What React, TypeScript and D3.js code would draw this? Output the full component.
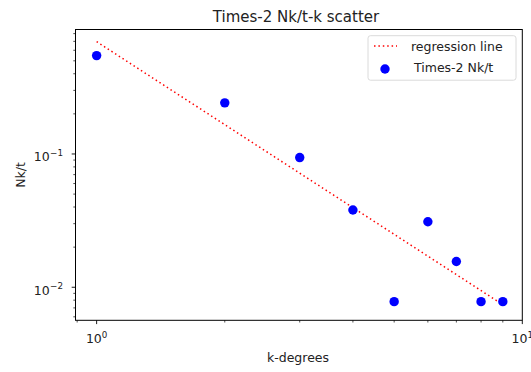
import React from "react";
import * as d3 from "d3";

const degrees = [1, 2, 3, 4, 5, 6, 7, 8, 9];
const nkt = [0.547, 0.242, 0.094, 0.038, 0.0078, 0.031, 0.0156, 0.0078, 0.0078];
const regK = [1, 9];
const regY = [0.696, 0.0074];
const xMajor = [1, 10];
const yMajor = [0.01, 0.1];
const xMinor = [0.9, 2, 3, 4, 5, 6, 7, 8, 9];
const yMinor = [0.006, 0.007, 0.008, 0.009, 0.02, 0.03, 0.04, 0.05, 0.06, 0.07, 0.08, 0.09, 0.2, 0.3, 0.4, 0.5, 0.6, 0.7, 0.8];

const W = 531, H = 372;
const left = 75.5, right = 522.3, top = 29.5, bottom = 320.3;
const font = "DejaVu Sans, sans-serif";
const fs = 12.5, sup = 8.75;

export default function App() {
  const x = d3.scaleLog().domain([0.892, 10]).range([left, right]);
  const y = d3.scaleLog().domain([0.00565, 0.859]).range([bottom, top]);
  const line = d3.line<number>().x((d, i) => x(regK[i])).y(d => y(d));
  const expo = (v: number) => String(Math.round(Math.log10(v))).replace("-", "\u2212");

  return (
    <svg width={W} height={H} style={{ position: "fixed", left: 0, top: 0, background: "#fff" }} fontFamily={font}>
      <rect x={0} y={0} width={W} height={H} fill="#fff" />
      <text x={296} y={21.5} textAnchor="middle" fontSize={15} fill="#222">Times-2 Nk/t-k scatter</text>

      {/* regression */}
      <path d={line(regY) || ""} fill="none" stroke="#ff0000" strokeWidth={1.5} strokeDasharray="1.5 2.9" />

      {degrees.map((k, i) => (
        <circle key={k} cx={x(k)} cy={y(nkt[i])} r={4.7} fill="#0000ff" />
      ))}

      {/* axes frame */}
      <rect x={left} y={top} width={right - left} height={bottom - top} fill="none" stroke="#000" strokeWidth={1} />

      {xMinor.map(v => (
        <line key={"xm" + v} x1={x(v)} x2={x(v)} y1={bottom} y2={bottom + 2.2} stroke="#000" strokeWidth={0.7} />
      ))}
      {xMajor.map(v => (
        <g key={"xM" + v}>
          <line x1={x(v)} x2={x(v)} y1={bottom} y2={bottom + 3.8} stroke="#000" strokeWidth={0.9} />
          <text x={x(v) - 10.7} y={343} fontSize={fs} fill="#222">
            10<tspan dy={-5.5} fontSize={sup}>{expo(v)}</tspan>
          </text>
        </g>
      ))}
      {yMinor.map(v => (
        <line key={"ym" + v} x1={left - 2.2} x2={left} y1={y(v)} y2={y(v)} stroke="#000" strokeWidth={0.7} />
      ))}
      {yMajor.map(v => (
        <g key={"yM" + v}>
          <line x1={left - 3.8} x2={left} y1={y(v)} y2={y(v)} stroke="#000" strokeWidth={0.9} />
          <text x={49.6} y={y(v) + 7.5} textAnchor="end" fontSize={fs} fill="#222">10</text>
          <text x={63} y={y(v) + 2.2} textAnchor="end" fontSize={sup} fill="#222">{expo(v)}</text>
        </g>
      ))}

      <text x={298} y={362} textAnchor="middle" fontSize={fs} fill="#222">k-degrees</text>
      <text transform={`translate(24.5,${(top + bottom) / 2}) rotate(-90)`} textAnchor="middle" fontSize={fs} fill="#222">Nk/t</text>

      {/* legend */}
      <rect x={368} y={35.7} width={148} height={44.5} rx={2.5} fill="#fff" fillOpacity={0.8} stroke="#d6d6d6" strokeWidth={0.9} />
      <line x1={374} x2={397} y1={46} y2={46} stroke="#ff0000" strokeWidth={1.5} strokeDasharray="1.5 2.9" />
      <text x={411} y={50.5} fontSize={fs} fill="#222">regression line</text>
      <circle cx={385} cy={69} r={4.7} fill="#0000ff" />
      <text x={414} y={71.7} fontSize={fs} fill="#222">Times-2 Nk/t</text>
    </svg>
  );
}
